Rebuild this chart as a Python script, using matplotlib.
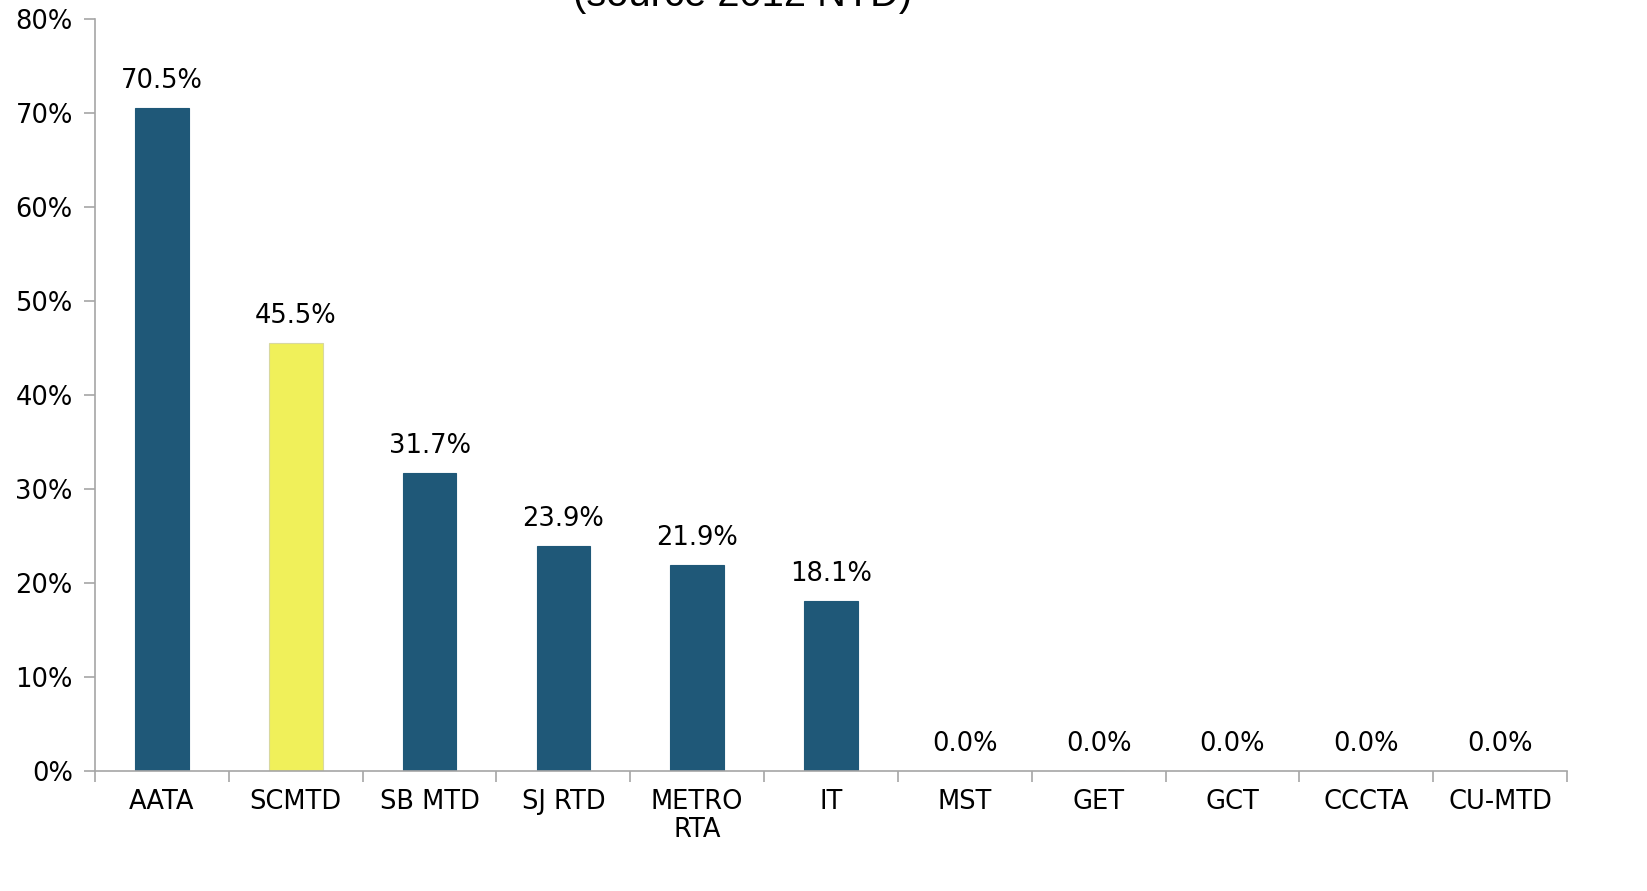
import matplotlib
matplotlib.use("Agg")
import matplotlib.pyplot as plt
import numpy as np

agencies = ["AATA", "SCMTD", "SB MTD", "SJ RTD", "METRO\nRTA", "IT",
            "MST", "GET", "GCT", "CCCTA", "CU-MTD"]
share = [70.5, 45.5, 31.7, 23.9, 21.9, 18.1, 0.0, 0.0, 0.0, 0.0, 0.0]
highlight = "SCMTD"
yticks = [0, 10, 20, 30, 40, 50, 60, 70, 80]

blue = "#1f5878"
yellow = "#f0f05a"
grey = "#a6a6a6"
fs = 18.5

fig = plt.figure(figsize=(16.47, 8.91), dpi=100)
ax = fig.add_axes([0.0577, 0.1347, 0.8937, 0.844])

x = np.arange(len(agencies))
colors = [yellow if a == highlight else blue for a in agencies]
edges = ["#d8d8a0" if a == highlight else blue for a in agencies]
ax.bar(x, share, width=0.4, color=colors, edgecolor=edges, linewidth=0.8)

for xi, v in zip(x, share):
    ax.annotate(f"{v:.1f}%", (xi, v), xytext=(0, 10), textcoords="offset points",
                ha="center", va="bottom", fontsize=fs, family="DejaVu Sans")

ax.set_xlim(-0.5, len(agencies) - 0.5)
ax.set_ylim(0, 80)
ax.set_yticks(yticks)
ax.set_yticklabels([f"{t}%" for t in yticks], fontsize=fs)
ax.set_xticks(x)
ax.set_xticklabels(agencies, fontsize=fs, linespacing=1.1)
ax.set_xticks(np.arange(len(agencies) + 1) - 0.5, minor=True)
ax.tick_params(axis="x", which="major", length=0, pad=13)
ax.tick_params(axis="x", which="minor", length=8, color=grey, width=1.2)
ax.tick_params(axis="y", length=8, color=grey, width=1.2, pad=8)

for s in ["top", "right"]:
    ax.spines[s].set_visible(False)
for s in ["left", "bottom"]:
    ax.spines[s].set_color(grey)
    ax.spines[s].set_linewidth(1.2)

fig.text(0.4508, 1 - 6 / 891, "(source 2012 NTD)", ha="center", va="baseline",
         fontsize=28.7, family="Liberation Sans")

fig.savefig("out.png", dpi=100)
